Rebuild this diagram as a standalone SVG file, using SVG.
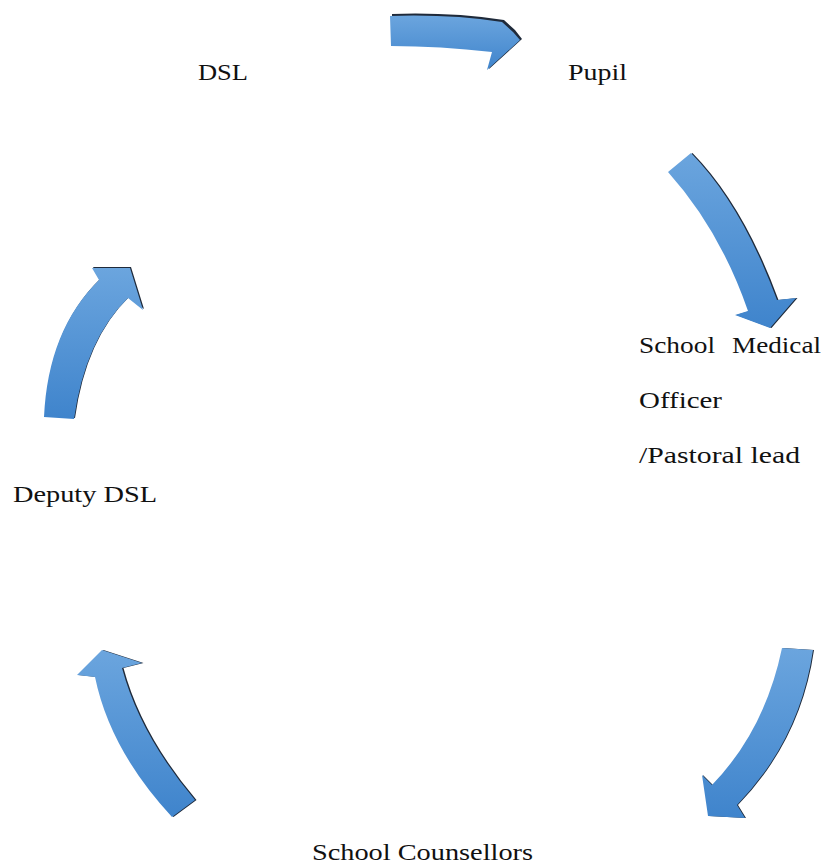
<svg xmlns="http://www.w3.org/2000/svg" width="827" height="867" viewBox="0 0 827 867">
<defs>
<linearGradient id="g" x1="0" y1="0" x2="0" y2="1">
<stop offset="0" stop-color="#6ba5de"/>
<stop offset="1" stop-color="#3f84cc"/>
</linearGradient>
<style>
.lbl{font-family:"Liberation Serif","Times New Roman",serif;font-size:24px;fill:#111}
.arr{fill:url(#g)}
.sh{fill:#1f2a3a}
</style>
</defs>
<rect width="827" height="867" fill="#fff"/>
<g id="connectors">
<g id="arrow-dsl-pupil">
<path class="sh" d="M391,15 Q450,13 503,21 L514,31 L521,40 L488,70 L492,52 Q440,46 391,46 Z" transform="translate(1,-1)"/>
<path class="arr" d="M390,16 Q450,14 502,22 L513,32 L520,40 L487,70 L492,52 Q440,46 391,46 Z"/>
</g>
<g id="arrow-pupil-medical">
<path class="sh" d="M668,172 L691,153 Q742,205 777,300 L796,298 L770,328 L735,315 L748,311 Q720,230 668,172 Z" transform="translate(1.5,0)"/>
<path class="arr" d="M668,172 L691,153 Q742,205 777,300 L796,298 L770,328 L735,315 L748,311 Q720,230 668,172 Z"/>
</g>
<g id="arrow-medical-counsellors">
<path class="sh" d="M782,648 L813,650 Q800,740 737,805 L745,818 L708,816 L702,775 L712,785 Q765,730 782,648 Z" transform="translate(1,0)"/>
<path class="arr" d="M782,648 L813,650 Q800,740 737,805 L745,818 L708,816 L702,775 L712,785 Q765,730 782,648 Z"/>
</g>
<g id="arrow-counsellors-deputy">
<path class="sh" d="M172,817 L195,800 Q140,735 122,668 L142,663 L102,650 L77,675 L95,677 Q110,750 172,817 Z" transform="translate(1.5,0)"/>
<path class="arr" d="M172,817 L195,800 Q140,735 122,668 L142,663 L102,650 L77,675 L95,677 Q110,750 172,817 Z"/>
</g>
<g id="arrow-deputy-dsl">
<path class="sh" d="M44,417 L74,419 Q85,340 128,298 L143,310 L130,268 L92,268 L99,280 Q48,330 44,417 Z" transform="translate(1,-1)"/>
<path class="arr" d="M44,417 L74,419 Q85,340 128,298 L143,310 L130,268 L92,268 L99,280 Q48,330 44,417 Z"/>
</g>
</g>
<g id="node-dsl"><text class="lbl" x="198" y="80" textLength="50" lengthAdjust="spacingAndGlyphs">DSL</text></g>
<g id="node-pupil"><text class="lbl" x="568" y="80" textLength="59" lengthAdjust="spacingAndGlyphs">Pupil</text></g>
<g id="node-medical">
<text class="lbl" y="353"><tspan x="639" textLength="76" lengthAdjust="spacingAndGlyphs">School</tspan> <tspan x="732" textLength="89" lengthAdjust="spacingAndGlyphs">Medical</tspan></text>
<text class="lbl" x="639" y="408" textLength="83" lengthAdjust="spacingAndGlyphs">Officer</text>
<text class="lbl" x="639" y="463" textLength="161" lengthAdjust="spacingAndGlyphs">/Pastoral lead</text>
</g>
<g id="node-deputy"><text class="lbl" x="13" y="502" textLength="144" lengthAdjust="spacingAndGlyphs">Deputy DSL</text></g>
<g id="node-counsellors"><text class="lbl" x="312" y="860" textLength="221" lengthAdjust="spacingAndGlyphs">School Counsellors</text></g>
</svg>
